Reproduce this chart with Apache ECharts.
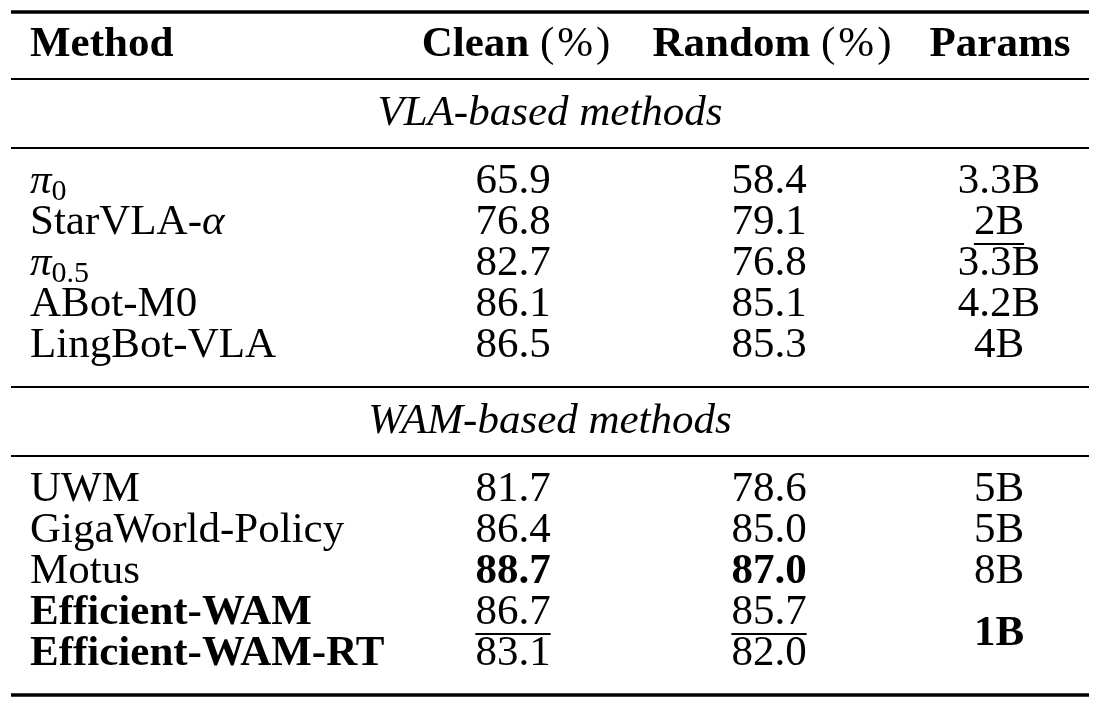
<!DOCTYPE html>
<html>
<head>
<meta charset="utf-8">
<script src="https://cdn.jsdelivr.net/npm/echarts@6/dist/echarts.min.js"></script>
<style>
    html, body { margin: 0; padding: 0; background: #fff; }
    #main { width: 1102px; height: 709px; }
</style>
</head>
<body>
<div id="main"></div>
<script>
    // ---- table data ----
    var header = ['Method', 'Clean (%)', 'Random (%)', 'Params'];
    var groupNames = ['VLA-based methods', 'WAM-based methods'];
    var groupSizes = [5, 5];
    var methods = ['π_{0}', 'StarVLA-α', 'π_{0.5}', 'ABot-M0', 'LingBot-VLA',
                   'UWM', 'GigaWorld-Policy', 'Motus', 'Efficient-WAM', 'Efficient-WAM-RT'];
    var ours = [false, false, false, false, false, false, false, false, true, true];
    var clean = [65.9, 76.8, 82.7, 86.1, 86.5, 81.7, 86.4, 88.7, 86.7, 83.1];
    var random = [58.4, 79.1, 76.8, 85.1, 85.3, 78.6, 85.0, 87.0, 85.7, 82.0];
    var params = ['3.3B', '2B', '3.3B', '4.2B', '4B', '5B', '5B', '8B', '1B', '1B'];
    var mergedParams = [8, 9];   // rows sharing one params cell

    // ---- layout ----
    var W = 1102, H = 709;
    var FONT = '"Liberation Serif", "Times New Roman", serif';
    var SIZE = 43, SUB_SIZE = 30, SUB_DY = 10;
    var X_LEFT = 11, X_RIGHT = 1089;
    var colX = [30, 513, 769, 999];
    var UNDERLINE_DY = 21;

    var measureCtx = document.createElement('canvas').getContext('2d');
    function fontOf(r) {
        return (r.italic ? 'italic ' : '') + (r.bold ? 'bold ' : '') + (r.size || SIZE) + 'px ' + FONT;
    }
    function textWidth(r) {
        measureCtx.font = fontOf(r);
        return measureCtx.measureText(r.t).width + (r.gap || 0);
    }

    /**
     * 把方法名拆成若干段：下标 _{...}、希腊字母斜体
     */
    function methodRuns(name, bold) {
        var runs = [];
        name.split(/(_\{[^}]*\})/).forEach(function (part) {
            if (!part) return;
            var m = part.match(/^_\{([^}]*)\}$/);
            if (m) {
                runs.push({t: m[1], size: SUB_SIZE, dy: SUB_DY});
                return;
            }
            part.split(/([πα])/).forEach(function (s) {
                if (!s) return;
                runs.push({t: s, italic: /[πα]/.test(s), bold: bold});
            });
        });
        return runs;
    }

    /**
     * 表头：粗体文字 + 常规体的 (%)，括号内留一点空隙
     */
    function headerRuns(text) {
        var m = text.match(/^(.*?)\s*\((.*)\)$/);
        if (!m) return [{t: text, bold: true}];
        return [
            {t: m[1] + ' ', bold: true},
            {t: '(', gap: 3},
            {t: m[2], gap: 3},
            {t: ')'}
        ];
    }

    function rankOf(arr, smallerIsBetter) {
        var uniq = arr.filter(function (v, i) { return arr.indexOf(v) === i; })
            .sort(function (a, b) { return smallerIsBetter ? a - b : b - a; });
        return function (v) { return uniq.indexOf(v); };
    }

    // ---- row positions ----
    var yTopRule = 12, yHeader = 45, yHeadRule = 79;
    var rules = [[yTopRule, 3.5], [yHeadRule, 1.8]];
    var rowY = [], groupY = [];
    var y = yHeadRule;
    groupSizes.forEach(function (n, g) {
        groupY.push(y + 35);
        rules.push([y + 69, 1.8]);
        var first = y + 103;
        for (var i = 0; i < n; i++) rowY.push(first + i * 41);
        y = first + (n - 1) * 41 + 41;
        rules.push([y, g === groupSizes.length - 1 ? 3.5 : 1.8]);
    });

    // ---- cells ----
    var cells = [];
    function addCell(x, yy, runs, align, underline) {
        cells.push({x: x, y: yy, runs: runs, align: align, underline: !!underline});
    }
    addCell(colX[0], yHeader, [{t: header[0], bold: true}], 'left');
    [1, 2, 3].forEach(function (c) {
        addCell(colX[c] + (c < 3 ? 3 : 1), yHeader, headerRuns(header[c]), 'center');
    });
    groupNames.forEach(function (name, g) {
        addCell((X_LEFT + X_RIGHT) / 2, groupY[g], [{t: name, italic: true}], 'center');
    });

    var cleanRank = rankOf(clean), randomRank = rankOf(random);
    var paramNum = params.map(function (p) { return parseFloat(p); });
    var paramRank = rankOf(paramNum, true);
    methods.forEach(function (name, i) {
        addCell(colX[0], rowY[i], methodRuns(name, ours[i]), 'left');
        [[clean, cleanRank], [random, randomRank]].forEach(function (col, k) {
            var v = col[0][i], r = col[1](v);
            addCell(colX[k + 1], rowY[i], [{t: v.toFixed(1), bold: r === 0}], 'center', r === 1);
        });
        if (mergedParams.indexOf(i) > 0) return;
        var py = rowY[i];
        if (mergedParams.indexOf(i) === 0) {
            py = (rowY[mergedParams[0]] + rowY[mergedParams[mergedParams.length - 1]]) / 2;
        }
        var pr = paramRank(paramNum[i]);
        addCell(colX[3], py, [{t: params[i], bold: pr === 0}], 'center', pr === 1);
    });

    // ---- render ----
    function renderCell(p, api) {
        var c = cells[api.value(2)];
        var pt = api.coord([api.value(0), api.value(1)]);
        var widths = c.runs.map(textWidth);
        var total = widths.reduce(function (a, b) { return a + b; }, 0);
        var x = c.align === 'left' ? pt[0] : pt[0] - total / 2;
        var x0 = x;
        var children = c.runs.map(function (r, k) {
            var el = {
                type: 'text',
                x: x,
                y: pt[1] + (r.dy || 0),
                style: {
                    text: r.t,
                    fontFamily: FONT,
                    fontSize: r.size || SIZE,
                    fontWeight: r.bold ? 'bold' : 'normal',
                    fontStyle: r.italic ? 'italic' : 'normal',
                    fill: '#000',
                    align: 'left',
                    verticalAlign: 'middle'
                }
            };
            x += widths[k];
            return el;
        });
        if (c.underline) {
            children.push({
                type: 'line',
                shape: {x1: x0, y1: pt[1] + UNDERLINE_DY, x2: x0 + total, y2: pt[1] + UNDERLINE_DY},
                style: {stroke: '#000', lineWidth: 1.8}
            });
        }
        return {type: 'group', children: children};
    }

    function renderRule(p, api) {
        var a = api.coord([api.value(0), api.value(1)]);
        var b = api.coord([api.value(2), api.value(1)]);
        return {
            type: 'line',
            shape: {x1: a[0], y1: a[1], x2: b[0], y2: b[1]},
            style: {stroke: '#000', lineWidth: api.value(3)}
        };
    }

    var chart = echarts.init(document.getElementById('main'), null, {renderer: 'canvas'});
    chart.setOption({
        backgroundColor: '#fff',
        animation: false,
        grid: {left: 0, right: 0, top: 0, bottom: 0},
        xAxis: {type: 'value', min: 0, max: W, show: false},
        yAxis: {type: 'value', min: 0, max: H, inverse: true, show: false},
        series: [
            {
                type: 'custom',
                silent: true,
                clip: false,
                renderItem: renderRule,
                encode: {x: [0, 2], y: 1},
                data: rules.map(function (r) { return [X_LEFT, r[0], X_RIGHT, r[1]]; })
            },
            {
                type: 'custom',
                silent: true,
                clip: false,
                renderItem: renderCell,
                encode: {x: 0, y: 1},
                data: cells.map(function (c, i) { return [c.x, c.y, i]; })
            }
        ]
    });
</script>
</body>
</html>
